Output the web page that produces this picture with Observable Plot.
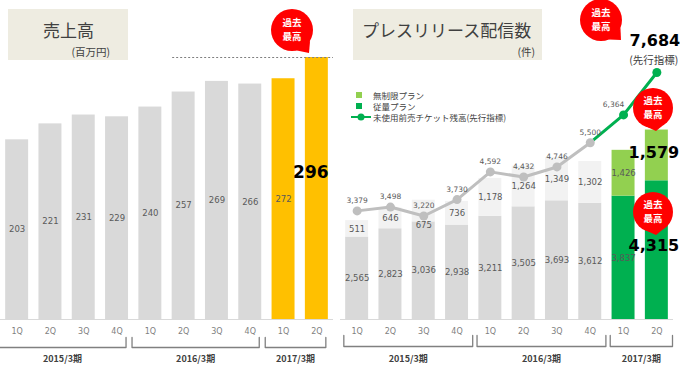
<!DOCTYPE html>
<html><head><meta charset="utf-8">
<script src="https://cdn.jsdelivr.net/npm/d3@7"></script>
<script src="https://cdn.jsdelivr.net/npm/@observablehq/plot@0.6"></script>
<style>
body{margin:0;background:#fff;}
#wrap{position:relative;width:680px;height:369px;overflow:hidden;font-family:"Noto Sans CJK JP",sans-serif;}
#wrap svg{position:absolute;top:0;}
</style></head><body><div id="wrap"></div>
<script>
// ---- data ----
const quarters = ["1Q","2Q","3Q","4Q","1Q","2Q","3Q","4Q","1Q","2Q"];
const yearLabels = ["2015/3期","2016/3期","2017/3期"];
const yearStart = [0,4,8];
const yearEnd = [3,7,9];
const sales = [203,221,231,229,240,257,269,266,272,296];
const unlimitedPlan = [511,646,675,736,1178,1264,1349,1302,1426,1579];
const meteredPlan = [2565,2823,3036,2938,3211,3505,3693,3612,3837,4315];
const ticketBalance = [3379,3498,3220,3730,4592,4432,4746,5500,6364,7684];
const legendLabels = ["無制限プラン","従量プラン","未使用前売チケット残高(先行指標)"];

const NUM = "DejaVu Sans, Verdana, sans-serif";
const JP = "Noto Sans CJK JP, sans-serif";
const fmt = d3.format(",");
const wrap = document.getElementById("wrap");
const HW = 0.345; // bar half width in index units

const groups = yearLabels.map((label, k) => ({label, start: yearStart[k], end: yearEnd[k]}));

function bracketMarks(yScale, off0, off1, yTop, yBot, yText) {
  const top = yScale.invert(yTop), bot = yScale.invert(yBot), txt = yScale.invert(yText);
  const marks = groups.map(g => Plot.line([
    {x: g.start + off0, y: top}, {x: g.start + off0, y: bot},
    {x: g.end + off1, y: bot}, {x: g.end + off1, y: top}
  ], {x: "x", y: "y", stroke: "#808080", strokeWidth: 1.3}));
  marks.push(Plot.text(groups, {x: g => (g.start + off0 + g.end + off1) / 2, y: () => txt, text: "label",
    fontSize: 9, fontWeight: "bold", fill: "#404040", fontFamily: JP}));
  return marks;
}

// ---- left chart: 売上高 ----
const salesData = sales.map((v, i) => ({i, v}));
const yL = d3.scaleLinear().domain([0, 296]).range([319, 57]);
const left = Plot.plot({
  width: 340, height: 369, marginLeft: 0, marginRight: 7, marginTop: 0, marginBottom: 50,
  x: {type: "linear", domain: [-0.5, 9.5], range: [0, 333]},
  y: {domain: yL.domain(), range: yL.range(), axis: null},
  style: {overflow: "visible", background: "transparent"},
  marks: [
    Plot.rectY(salesData, {x1: d => d.i - HW, x2: d => d.i + HW, y1: 0, y2: "v",
      fill: d => d.i >= 8 ? "#ffc000" : "#d9d9d9"}),
    Plot.ruleY([0], {stroke: "#d9d9d9", strokeWidth: 1}),
    Plot.ruleY([sales[9]], {x1: 4.67, x2: 9.5, stroke: "#7f7f7f", strokeDasharray: "2,2", strokeWidth: 1}),
    Plot.text(salesData.filter(d => d.i < 9), {x: "i", y: d => d.v / 2, text: d => fmt(d.v),
      fontSize: 8.5, fill: "#595959", fontFamily: NUM}),
    Plot.text(salesData.filter(d => d.i === 9), {x: "i", y: d => d.v / 2, text: d => fmt(d.v),
      dx: -6, dy: -16, fontSize: 17, fontWeight: "bold", fill: "#000", fontFamily: NUM}),
    Plot.axisX(d3.range(10), {tickFormat: i => quarters[i], tickSize: 0, tickPadding: 9,
      fontSize: 8, fill: "#7f7f7f", fontFamily: NUM}),
    ...bracketMarks(yL, -0.55, 0.27, 337, 347, 359)
  ]
});
left.style.left = "0px";
wrap.appendChild(left);

// ---- right chart: プレスリリース配信数 ----
const prData = meteredPlan.map((m, i) => ({i, m, u: unlimitedPlan[i], t: ticketBalance[i]}));
const yR = d3.scaleLinear().domain([0, 7684]).range([319, 72]);
const right = Plot.plot({
  width: 340, height: 369, marginLeft: 0, marginRight: 7, marginTop: 0, marginBottom: 50,
  x: {type: "linear", domain: [-0.5, 9.5], range: [0, 333]},
  y: {domain: yR.domain(), range: yR.range(), axis: null},
  style: {overflow: "visible", background: "transparent"},
  marks: [
    Plot.rectY(prData, {x1: d => d.i - HW, x2: d => d.i + HW, y1: 0, y2: "m",
      fill: d => d.i >= 8 ? "#00b050" : "#d9d9d9"}),
    Plot.rectY(prData, {x1: d => d.i - HW, x2: d => d.i + HW, y1: "m", y2: d => d.m + d.u,
      fill: d => d.i >= 8 ? "#92d050" : "#f2f2f2"}),
    Plot.ruleY([0], {stroke: "#d9d9d9", strokeWidth: 1}),
    Plot.text(prData.filter(d => d.i < 9), {x: "i", y: d => d.m / 2, text: d => fmt(d.m),
      fontSize: 8.5, fill: "#595959", fontFamily: NUM}),
    Plot.text(prData.filter(d => d.i < 9 && d.i !== 2), {x: "i", y: d => d.m + d.u / 2, text: d => fmt(d.u),
      fontSize: 8.5, fill: "#595959", fontFamily: NUM}),
    Plot.text(prData.filter(d => d.i === 2), {x: "i", y: d => d.m + d.u / 2, text: d => fmt(d.u),
      dy: 14, fontSize: 8.5, fill: "#595959", fontFamily: NUM}),
    Plot.text(prData.filter(d => d.i === 9), {x: "i", y: d => d.m / 2, text: d => fmt(d.m),
      dx: -3, dy: -4, fontSize: 16, fontWeight: "bold", fill: "#000", fontFamily: NUM}),
    Plot.text(prData.filter(d => d.i === 9), {x: "i", y: d => d.m + d.u / 2, text: d => fmt(d.u),
      dx: -3, dy: -3, fontSize: 16, fontWeight: "bold", fill: "#000", fontFamily: NUM}),
    Plot.line(prData.filter(d => d.i <= 7), {x: "i", y: "t", stroke: "#bfbfbf", strokeWidth: 3}),
    Plot.line(prData.filter(d => d.i >= 7), {x: "i", y: "t", stroke: "#00b050", strokeWidth: 3}),
    Plot.dot(prData, {x: "i", y: "t", r: 4.5, fill: d => d.i >= 8 ? "#00b050" : "#bfbfbf"}),
    Plot.text(prData.filter(d => d.i <= 7), {x: "i", y: "t", text: d => fmt(d.t), dy: -10,
      fontSize: 7.5, fill: "#595959", fontFamily: NUM}),
    Plot.text(prData.filter(d => d.i === 8), {x: "i", y: "t", text: d => fmt(d.t), dx: -10, dy: -10,
      fontSize: 7.5, fill: "#595959", fontFamily: NUM}),
    Plot.text(prData.filter(d => d.i === 9), {x: "i", y: "t", text: d => fmt(d.t), dx: -2, dy: -32,
      fontSize: 16, fontWeight: "bold", fill: "#000", fontFamily: NUM}),
    Plot.text(prData.filter(d => d.i === 9), {x: "i", y: "t", text: () => "(先行指標)", dx: -3, dy: -12,
      fontSize: 10.5, fill: "#404040", fontFamily: JP}),
    Plot.axisX(d3.range(10), {tickFormat: i => quarters[i], tickSize: 0, tickPadding: 9,
      fontSize: 8, fill: "#7f7f7f", fontFamily: NUM}),
    ...bracketMarks(yR, -0.4, 0.47, 335, 346, 359)
  ]
});
right.style.left = "340px";
wrap.appendChild(right);

// ---- overlay: titles, legend, bubbles ----
const ov = d3.select(wrap).append("svg").attr("width", 680).attr("height", 369)
  .style("left", "0px").style("pointer-events", "none");

function titleBox(x, y, w, h, title, tx, unit, ux) {
  ov.append("rect").attr("x", x).attr("y", y).attr("width", w).attr("height", h).attr("fill", "#eeece1");
  ov.append("text").attr("x", tx).attr("y", y + 28).attr("font-size", 17).attr("fill", "#404040")
    .attr("font-family", JP).text(title);
  ov.append("text").attr("x", ux).attr("y", y + 47).attr("font-size", 10.5).attr("fill", "#404040")
    .attr("text-anchor", "end").attr("font-family", JP).text(unit);
}
titleBox(8, 9, 120, 51, "売上高", 43, "(百万円)", 110);
titleBox(353, 9, 189, 51, "プレスリリース配信数", 362, "(件)", 535);

// legend
const lg = ov.append("g").attr("font-family", JP).attr("font-size", 8.5).attr("fill", "#404040");
lg.append("rect").attr("x", 356).attr("y", 92).attr("width", 6).attr("height", 6).attr("fill", "#92d050");
lg.append("rect").attr("x", 356).attr("y", 103).attr("width", 6).attr("height", 6).attr("fill", "#00b050");
lg.append("line").attr("x1", 351).attr("x2", 371).attr("y1", 117).attr("y2", 117)
  .attr("stroke", "#00b050").attr("stroke-width", 2);
lg.append("circle").attr("cx", 361).attr("cy", 117).attr("r", 3.5).attr("fill", "#00b050");
legendLabels.forEach((t, k) => lg.append("text").attr("x", 373).attr("y", 98.5 + k * 11).text(t));

// bubbles
function bubble(cx, cy, r, tx, ty) {
  const a = Math.atan2(ty - cy, tx - cx), s = 0.4;
  const p1 = [cx + r * Math.cos(a - s), cy + r * Math.sin(a - s)];
  const p2 = [cx + r * Math.cos(a + s), cy + r * Math.sin(a + s)];
  const g = ov.append("g");
  g.append("path").attr("d", `M${p1}L${tx},${ty}L${p2}Z`).attr("fill", "#ff0000");
  g.append("circle").attr("cx", cx).attr("cy", cy).attr("r", r).attr("fill", "#ff0000");
  ["過去", "最高"].forEach((t, k) => g.append("text").attr("x", cx).attr("y", cy - 6.5 + k * 13.5)
    .attr("dominant-baseline", "middle")
    .attr("text-anchor", "middle").attr("font-size", 9.5).attr("font-weight", "bold")
    .attr("fill", "#fff").attr("font-family", JP).text(t));
}
bubble(292, 30, 21, 309, 53);
bubble(601, 20, 21, 621, 40);
bubble(653, 108, 20, 656, 131);
bubble(653, 212, 20, 656, 235);
</script></body></html>
